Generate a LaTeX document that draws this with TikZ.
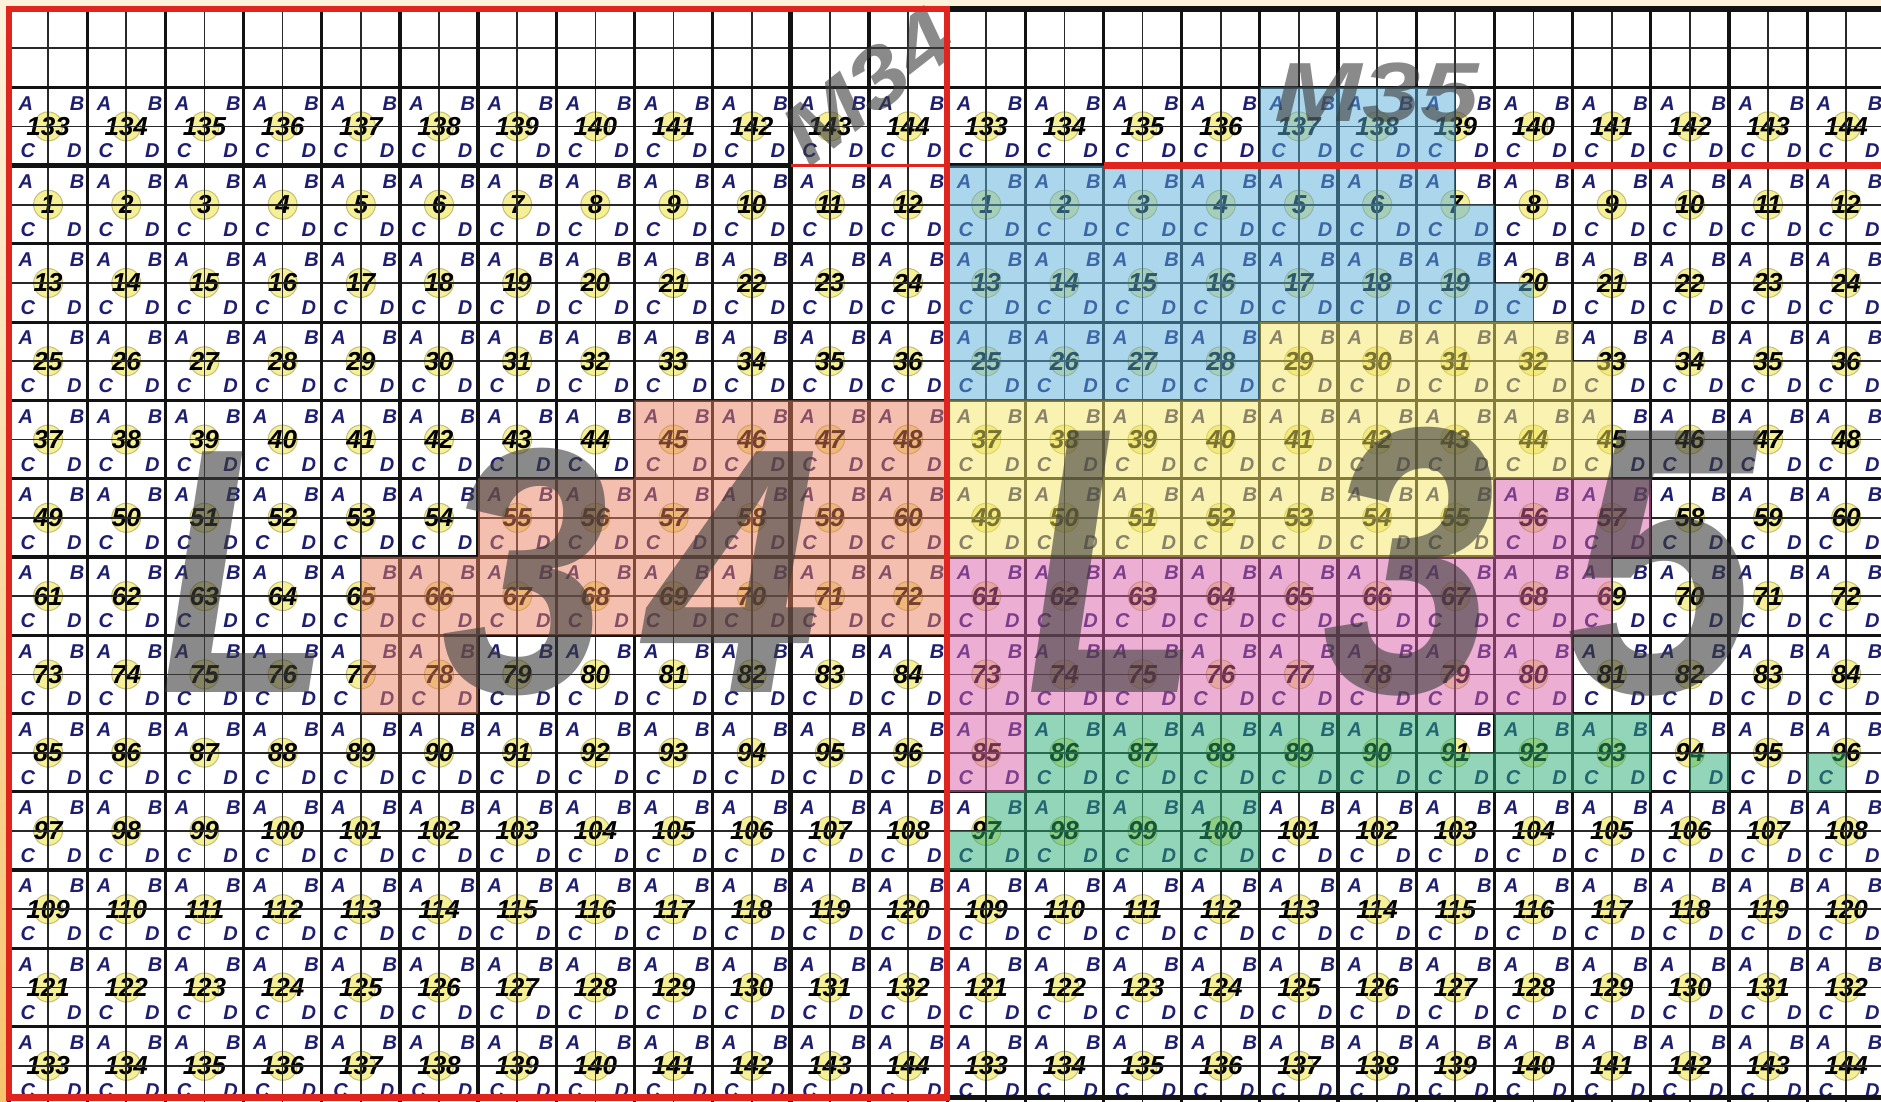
\documentclass[tikz,border=0pt]{standalone}
\usepackage{fontspec}
\setmainfont{Liberation Sans}
\usepackage{graphicx}
\definecolor{cream}{RGB}{252,242,220}
\definecolor{edgeorange}{RGB}{246,196,110}
\definecolor{navy}{RGB}{30,30,112}
\definecolor{circfill}{RGB}{245,239,150}
\definecolor{circline}{RGB}{196,190,118}
\definecolor{thinline}{RGB}{40,40,40}
\definecolor{thickline}{RGB}{18,18,18}
\definecolor{redline}{RGB}{224,36,30}
\definecolor{ovblue}{RGB}{90,175,218}
\definecolor{ovyellow}{RGB}{244,230,100}
\definecolor{ovpink}{RGB}{218,95,168}
\definecolor{ovgreen}{RGB}{40,172,115}
\definecolor{ovorange}{RGB}{236,128,96}
\definecolor{biggray}{RGB}{60,60,60}
\begin{document}
\begin{tikzpicture}[x=0.5pt,y=-0.5pt,
  lbl/.style={font=\fontsize{10}{10}\selectfont\bfseries\itshape,text=navy,inner sep=0pt},
  num/.style={font=\fontsize{13}{13}\selectfont\bfseries\itshape,text=black,inner sep=0pt},
  dot/.style={circle,fill=circfill,draw=circline,line width=0.5pt,minimum size=14.5pt,inner sep=0pt},
  qline/.style={draw=thinline,line width=0.85pt},
  cline/.style={draw=thickline,line width=1.6pt},
  heavyline/.style={draw=thickline,line width=2.6pt},
  redl/.style={draw=redline,line width=3.2pt},
  blackborder/.style={draw=thickline,line width=2.8pt},
  tint/.style={fill opacity=0.5},
  bigA/.style={font=\fontsize{175}{175}\selectfont\bfseries\itshape,text=biggray,text opacity=0.6,inner sep=0pt,anchor=base west},
  bigB/.style={font=\fontsize{190}{190}\selectfont\bfseries\itshape,text=biggray,text opacity=0.6,inner sep=0pt,anchor=base west},
  sheettxt/.style={font=\fontsize{42}{42}\selectfont\bfseries\itshape,text=biggray,text opacity=0.6,inner sep=0pt}]
\useasboundingbox (0,0) rectangle (1881,1102);
\clip (0,0) rectangle (1881,1102);
\fill[cream] (0,0) rectangle (1881,1102);
\shade[top color=cream,bottom color=edgeorange] (0,0) rectangle (8,1102);
\fill[white] (9,9) rectangle (1881,1102);
\begin{scope}[shift={(4.5pt,-4.5pt)},x=39.09pt,y=-39.14pt]
\foreach \r in {1,...,13}{
  \foreach \c in {0,...,23}{
    \pgfmathtruncatemacro{\lc}{mod(\c,12)}
    \ifnum\r=1 \pgfmathtruncatemacro{\n}{133+\lc}\else
      \ifnum\r=13 \pgfmathtruncatemacro{\n}{133+\lc}\else
        \pgfmathtruncatemacro{\n}{12*(\r-2)+\lc+1}\fi\fi
    \node[dot] (o\r-\c) at (\c+0.5,\r+0.5) {};
    \node[num] (n\r-\c) at (\c+0.5,\r+0.5) {\n};
    \node[lbl] (a\r-\c) at (\c+0.215,\r+0.204) {A};
    \node[lbl] (b\r-\c) at (\c+0.870,\r+0.204) {B};
    \node[lbl] (c\r-\c) at (\c+0.240,\r+0.815) {C};
    \node[lbl] (d\r-\c) at (\c+0.835,\r+0.815) {D};
  }
}
\foreach \k in {0,...,23} \draw[qline] (\k+0.5,0) -- (\k+0.5,14.2);
\foreach \k in {0,...,13} \draw[qline] (0,\k+0.5) -- (24.2,\k+0.5);
\foreach \k in {0,...,24} \draw[cline] (\k,0) -- (\k,14.2);
\foreach \k in {0,...,14} \draw[cline] (0,\k) -- (24.2,\k);
\draw[heavyline] (10,0) -- (10,14.2);
\draw[heavyline] (0,2) -- (10,2);
\draw[heavyline] (12,2) -- (14,2);
% coloured areas
\fill[ovorange,tint] (8,5) -- (12,5) -- (12,8) -- (6,8) -- (6,9) -- (4.5,9) -- (4.5,7) -- (6,7) -- (6,6) -- (8,6) -- cycle;
\fill[ovblue,tint] (12,2) -- (16,2) -- (16,1) -- (18.5,1) -- (18.5,2.5) -- (19,2.5) -- (19,3.5) -- (19.5,3.5) -- (19.5,4) -- (16,4) -- (16,5) -- (12,5) -- cycle;
\fill[ovyellow,tint] (16,4) -- (20,4) -- (20,4.5) -- (20.5,4.5) -- (20.5,6) -- (19,6) -- (19,7) -- (12,7) -- (12,5) -- (16,5) -- cycle;
\fill[ovpink,tint] (19,6) -- (21,6) -- (21,7) -- (20.5,7) -- (20.5,8) -- (20,8) -- (20,9) -- (13,9) -- (13,10) -- (12,10) -- (12,7) -- (19,7) -- cycle;
\fill[ovgreen,tint] (13,9) -- (18.5,9) -- (18.5,9.5) -- (19,9.5) -- (19,9) -- (21,9) -- (21,10) -- (16,10) -- (16,11) -- (12,11) -- (12,10.5) -- (12.5,10.5) -- (12.5,10) -- (13,10) -- cycle;
\fill[ovgreen,tint] (21.5,9.5) rectangle (22,10);
\fill[ovgreen,tint] (23,9.5) rectangle (23.5,10);
\end{scope}
% large sheet labels, one glyph each
\node[bigA] (L34l) at (160,692) {\scalebox{0.8}[1]{L}};
\node[bigA] (L34t) at (441,692) {\scalebox{0.86}[1]{3}};
\node[bigA] (L34f) at (645,692) {\scalebox{0.9}[1]{4}};
\node[bigB] (L35l) at (1026,692) {\scalebox{0.75}[1]{L}};
\node[bigB] (L35t) at (1322,692) {\scalebox{0.82}[1]{3}};
\node[bigB] (L35f) at (1566,692) {\scalebox{0.9}[1]{5}};
\node[sheettxt,rotate=38] (M34) at (868,86) {\scalebox{1.18}[1]{M34}};
\node[sheettxt] (M35) at (1377,93) {\scalebox{1.25}[1]{M35}};
% borders
\begin{scope}[shift={(4.5pt,-4.5pt)},x=39.09pt,y=-39.14pt]
\draw[blackborder] (12,0) -- (24.2,0);
\draw[blackborder] (12,13.905) -- (24.2,13.905);
\draw[redl] (14,2) -- (24.2,2);
\draw[draw=redline,line width=1.4pt] (10,2) -- (12,2);
\draw[redl] (0,0) rectangle (12,13.905);
\end{scope}
\end{tikzpicture}
\end{document}
